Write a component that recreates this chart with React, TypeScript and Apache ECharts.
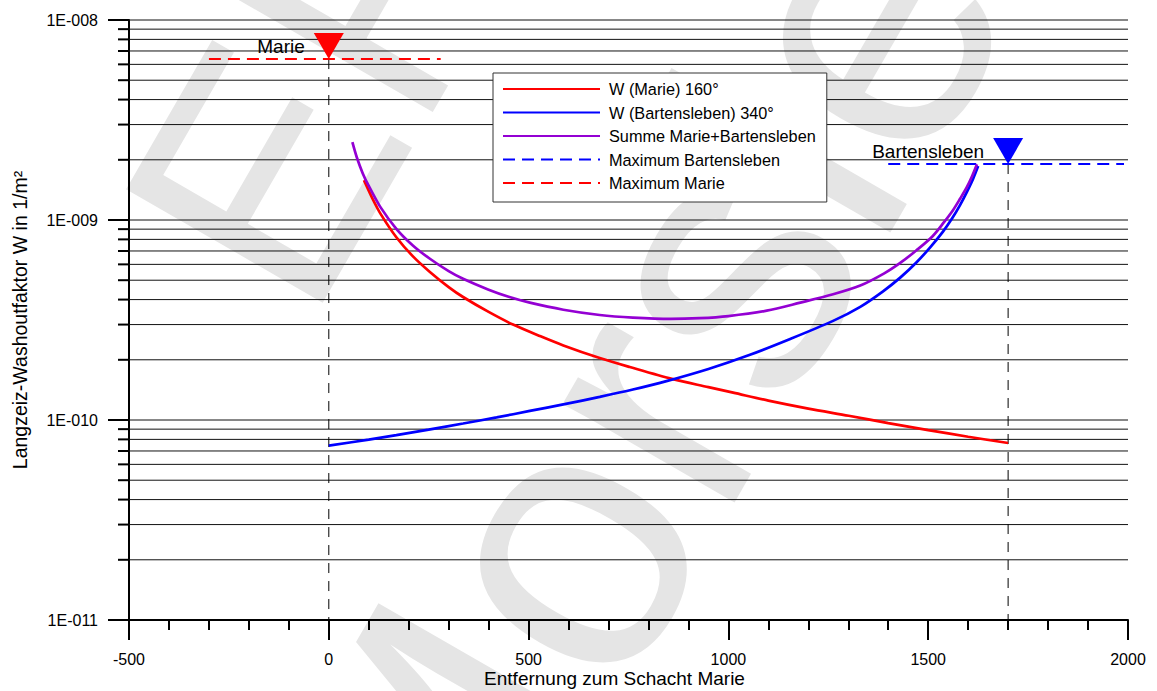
import React, { useEffect, useRef } from 'react';
import * as echarts from 'echarts';

// ---- axes ----
const X_MIN = -500;
const X_MAX = 2000;
const X_INTERVAL = 500;
const Y_MIN = 1e-11;
const Y_MAX = 1e-8;
const yTickExponents = [-11, -10, -9, -8];
const yTickLabels = ['1E-011', '1E-010', '1E-009', '1E-008'];
const gridMultipliers = [1, 2, 3, 4, 5, 6, 7, 8, 9];

// ---- series names ----
const seriesNames = [
  'W (Marie) 160°',
  'W (Bartensleben) 340°',
  'Summe Marie+Bartensleben',
  'Maximum Bartensleben',
  'Maximum Marie',
];

// ---- data (distance to shaft Marie in m, washout factor in 1/m²) ----
const marieX = [88, 110, 130, 169, 210, 253, 300, 336, 400, 461, 530, 587, 678, 753, 861, 950, 1012, 1100, 1200, 1301, 1400, 1500, 1600, 1700];
const marieW = [1.58e-9, 1.27e-9, 1.07e-9, 8.2e-10, 6.6e-10, 5.5e-10, 4.62e-10, 4.12e-10, 3.47e-10, 3.0e-10, 2.62e-10, 2.36e-10, 2.04e-10, 1.84e-10, 1.6e-10, 1.46e-10, 1.37e-10, 1.25e-10, 1.14e-10, 1.05e-10, 9.65e-11, 8.9e-11, 8.25e-11, 7.67e-11];

const bartX = [0, 100, 169, 250, 336, 420, 503, 590, 678, 761, 845, 950, 1054, 1150, 1262, 1330, 1387, 1430, 1471, 1505, 1537, 1560, 1579, 1596, 1612, 1625];
const bartW = [7.44e-11, 7.98e-11, 8.4e-11, 8.95e-11, 9.6e-11, 1.03e-10, 1.11e-10, 1.2e-10, 1.305e-10, 1.42e-10, 1.565e-10, 1.8e-10, 2.12e-10, 2.52e-10, 3.13e-10, 3.68e-10, 4.4e-10, 5.15e-10, 6.15e-10, 7.3e-10, 8.75e-10, 1.02e-9, 1.18e-9, 1.37e-9, 1.6e-9, 1.86e-9];

const sumX = [59, 70, 85, 100, 128, 169, 211, 253, 300, 336, 400, 450, 503, 587, 678, 761, 856, 928, 1000, 1096, 1180, 1262, 1330, 1390, 1430, 1470, 1511, 1540, 1562, 1580, 1596, 1610, 1622];
const sumW = [2.45e-9, 2.06e-9, 1.71e-9, 1.48e-9, 1.17e-9, 9.04e-10, 7.44e-10, 6.4e-10, 5.55e-10, 5.08e-10, 4.48e-10, 4.13e-10, 3.86e-10, 3.56e-10, 3.35e-10, 3.25e-10, 3.2e-10, 3.23e-10, 3.31e-10, 3.52e-10, 3.86e-10, 4.25e-10, 4.7e-10, 5.41e-10, 6.1e-10, 7.04e-10, 8.3e-10, 9.78e-10, 1.12e-9, 1.28e-9, 1.45e-9, 1.66e-9, 1.9e-9];

const maxBartX = [1400, 1990];
const maxBartW = 1.905e-9;
const maxMarieX = [-300, 280];
const maxMarieW = 6.38e-9;

const shaftNames = ['Marie', 'Bartensleben'];
const shaftX = [0, 1700];
const shaftMax = [maxMarieW, maxBartW];
const shaftColors = ['#ff0000', '#0000ff'];

const watermarkLines = ['ERAM', 'Morsleben'];

const FONT = '"Liberation Sans", Arial, Helvetica, sans-serif';

function buildOption() {
  const gridValues: number[] = [];
  for (let e = yTickExponents[0]; e < yTickExponents[yTickExponents.length - 1]; e++) {
    for (const m of gridMultipliers) {
      if (e === yTickExponents[0] && m === 1) continue;
      gridValues.push(m * Math.pow(10, e));
    }
  }
  gridValues.push(Y_MAX);

  const THETA = (60 * Math.PI) / 180;
  const F1 = 330;
  const F2 = 375;

  const lineSeries = (name: string, xs: number[], ys: number[], color: string) => ({
    type: 'line',
    name,
    data: xs.map((x, i) => [x, ys[i]]),
    symbol: 'none',
    smooth: 0.3,
    lineStyle: { color, width: 2.7 },
    itemStyle: { color },
    z: 4,
  });

  const wmText = (text: string, x: number, y: number, F: number) => ({
    type: 'text',
    x,
    y,
    rotation: THETA,
    z: -10,
    silent: true,
    style: {
      text,
      fontSize: F,
      fontFamily: FONT,
      fill: '#e5e5e5',
      x: 0,
      y: -0.3465 * F,
      align: 'left',
      verticalAlign: 'middle',
      textAlign: 'left',
      textVerticalAlign: 'middle',
    },
  });

  return {
    animation: false,
    textStyle: { fontFamily: FONT, color: '#000' },
    grid: { left: 129, right: 29, top: 20, bottom: 71, containLabel: false, outerBoundsMode: 'none' },
    graphic: {
      elements: [wmText(watermarkLines[0], 309, 326, F1), wmText(watermarkLines[1], 461, 976, F2)],
    },
    legend: {
      data: seriesNames,
      orient: 'vertical',
      left: 493,
      top: 73,
      padding: [8, 11, 11, 9],
      itemGap: 7.5,
      itemWidth: 97,
      itemHeight: 14,
      backgroundColor: '#fff',
      borderColor: '#333',
      borderWidth: 1,
      textStyle: { fontSize: 16.3, color: '#000', fontFamily: FONT, padding: [0, 0, 0, 4] },
      itemStyle: { opacity: 0 },
      selectedMode: false,
    },
    xAxis: {
      type: 'value',
      min: X_MIN,
      max: X_MAX,
      interval: X_INTERVAL,
      name: 'Entfernung zum Schacht Marie',
      nameLocation: 'middle',
      nameGap: 49,
      nameMoveOverlap: false,
      nameTextStyle: { fontSize: 19, color: '#000', fontFamily: FONT, padding: [0, 28, 0, 0] },
      axisLine: { show: true, onZero: false, lineStyle: { color: '#000', width: 2 } },
      axisTick: { show: true, length: 20, lineStyle: { color: '#000', width: 2 } },
      minorTick: { show: true, splitNumber: 5, length: 10, lineStyle: { color: '#000', width: 2 } },
      axisLabel: {
        fontSize: 16,
        color: '#000',
        margin: 31,
        fontFamily: FONT,
        formatter: (v: number) => String(v),
      },
      splitLine: { show: false },
    },
    yAxis: {
      type: 'log',
      logBase: 10,
      min: Y_MIN,
      max: Y_MAX,
      name: 'Langzeiz-Washoutfaktor W in 1/m²',
      nameLocation: 'middle',
      nameRotate: 90,
      nameGap: 99,
      nameMoveOverlap: false,
      nameTextStyle: { fontSize: 19.5, color: '#000', fontFamily: FONT },
      axisLine: { show: true, onZero: false, lineStyle: { color: '#000', width: 2 } },
      axisTick: { show: true, length: 21, lineStyle: { color: '#000', width: 2 } },
      axisLabel: {
        fontSize: 16,
        color: '#000',
        margin: 31,
        fontFamily: FONT,
        formatter: (v: number) => {
          const idx = yTickExponents.indexOf(Math.round(Math.log10(v)));
          return idx >= 0 ? yTickLabels[idx] : '';
        },
      },
      splitLine: { show: false },
    },
    series: [
      {
        type: 'custom',
        name: 'grid',
        silent: true,
        clip: false,
        z: 1,
        encode: { x: 0, y: 1 },
        data: gridValues.map((v) => [X_MIN, v]),
        renderItem: (params: any, api: any) => {
          const v = api.value(1);
          const p0 = api.coord([X_MIN, v]);
          const p1 = api.coord([X_MAX, v]);
          const e = Math.log10(v);
          const major = Math.abs(e - Math.round(e)) < 1e-6;
          const children: any[] = [
            {
              type: 'line',
              shape: { x1: p0[0], y1: p0[1], x2: p1[0], y2: p1[1] },
              style: { stroke: '#111', lineWidth: 1 },
            },
          ];
          if (!major) {
            children.push({
              type: 'line',
              shape: { x1: p0[0] - 11, y1: p0[1], x2: p0[0], y2: p0[1] },
              style: { stroke: '#000', lineWidth: 2 },
            });
          }
          return { type: 'group', children };
        },
      },
      lineSeries(seriesNames[0], marieX, marieW, '#ff0000'),
      lineSeries(seriesNames[1], bartX, bartW, '#0000ff'),
      lineSeries(seriesNames[2], sumX, sumW, '#9400d3'),
      {
        type: 'line',
        name: seriesNames[3],
        data: maxBartX.map((x) => [x, maxBartW]),
        symbol: 'none',
        lineStyle: { color: '#0000ff', width: 2, type: [12, 7] },
        itemStyle: { color: '#0000ff' },
        z: 3,
      },
      {
        type: 'line',
        name: seriesNames[4],
        data: maxMarieX.map((x) => [x, maxMarieW]),
        symbol: 'none',
        lineStyle: { color: '#ff0000', width: 2, type: [12, 7] },
        itemStyle: { color: '#ff0000' },
        z: 3,
      },
      ...shaftX.map((x, i) => ({
        type: 'line',
        name: 'shaft-' + shaftNames[i],
        data: [
          [x, shaftMax[i]],
          [x, Y_MIN],
        ],
        symbol: 'none',
        lineStyle: { color: '#000', width: 1, type: [10, 8] },
        z: 2,
      })),
      {
        type: 'scatter',
        name: 'markers',
        data: shaftX.map((x, i) => ({
          value: [x, shaftMax[i]],
          name: shaftNames[i],
          itemStyle: { color: shaftColors[i], opacity: 1 },
        })),
        symbol: 'triangle',
        symbolRotate: 180,
        symbolSize: [30, 26],
        symbolOffset: [0, -13],
        itemStyle: { opacity: 1 },
        label: {
          show: true,
          position: 'left',
          formatter: '{b}',
          fontSize: 19,
          color: '#000',
          fontFamily: FONT,
          distance: 9,
        },
        z: 6,
      },
    ],
  };
}

export default function App() {
  const ref = useRef<HTMLDivElement>(null);
  useEffect(() => {
    if (!ref.current) return;
    const chart = echarts.init(ref.current, null, { renderer: 'svg' });
    chart.setOption(buildOption() as any);
    return () => chart.dispose();
  }, []);
  return (
    <div
      ref={ref}
      style={{ position: 'fixed', left: 0, top: 0, width: '1157px', height: '691px', background: '#fff' }}
    />
  );
}
